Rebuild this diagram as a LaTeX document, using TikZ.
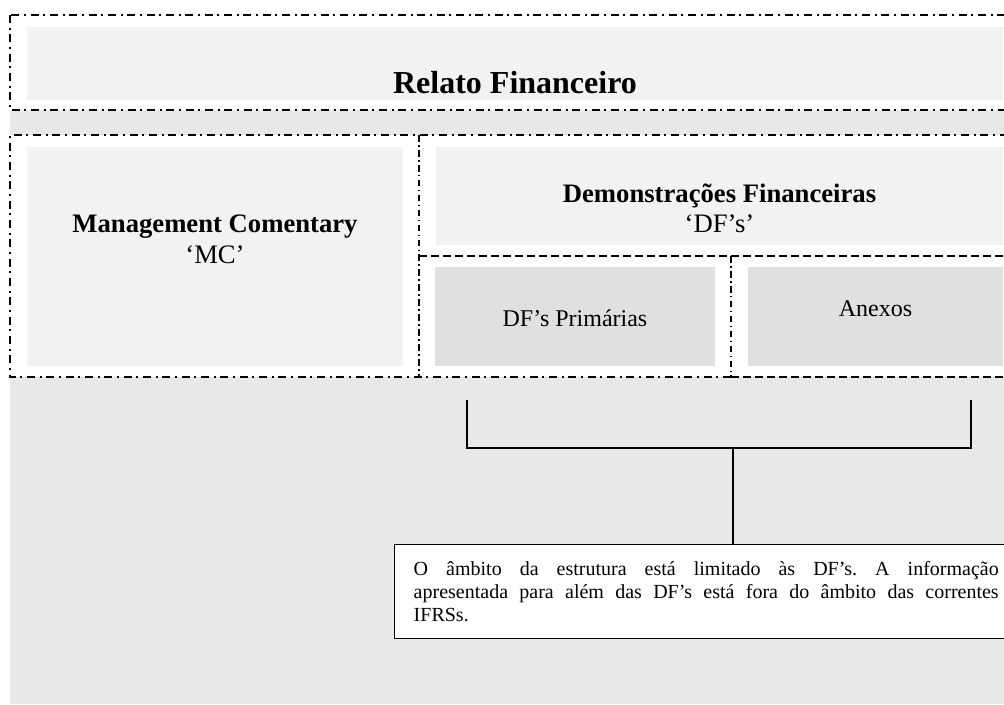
\documentclass[tikz,border=0pt]{standalone}
\usepackage{fontspec}
\setmainfont{Liberation Serif}
\usetikzlibrary{calc}
\definecolor{bgGray}{HTML}{E8E8E8}
\definecolor{boxLight}{HTML}{F2F2F2}
\definecolor{boxDark}{HTML}{E0E0E0}
\frenchspacing

\begin{document}
\begin{tikzpicture}[x=0.75pt, y=-0.75pt,
    frameline/.style={line width=1.5pt, dash pattern=on 6pt off 3.5pt on 1.5pt off 3.5pt},
    innerline/.style={line width=1.1pt, dash pattern=on 5pt off 2.5pt on 1.2pt off 2.5pt},
    dashline/.style={line width=1.1pt, dash pattern=on 6pt off 3pt},
    lightbox/.style={fill=boxLight, inner sep=0pt},
    darkbox/.style={fill=boxDark, inner sep=0pt},
    titletext/.style={anchor=base, font=\fontsize{24}{28}\selectfont\bfseries},
    headtext/.style={anchor=base, font=\fontsize{20}{24}\selectfont\bfseries},
    subtext/.style={anchor=base, font=\fontsize{20}{24}\selectfont},
    boxtext/.style={anchor=base, font=\fontsize{18}{22}\selectfont},
    notebox/.style={draw, line width=1.1pt, fill=white, anchor=north west,
        text width=438.75pt, inner xsep=14.25pt, inner ysep=0pt,
        minimum height=70.5pt, align=justify,
        font=\fontsize{15}{17.25}\selectfont},
    bracket/.style={line width=1.1pt}]

    \clip (0,0) rectangle (1004,704);

    % Grey page behind the frames
    \fill[bgGray] (10,110) rectangle (1012,704);

    % Top frame
    \filldraw[fill=white, frameline] (10,15) rectangle (1012,110);
    \node[lightbox, minimum width=732pt, minimum height=54.75pt] (relato) at (515,63.5) {};
    \node[titletext] (relatoT) at (515,93) {Relato Financeiro};

    % Second frame with the MC and DF parts
    \fill[white] (10,135) rectangle (1012,377);
    \draw[frameline] (731,377) -- (10,377) -- (10,135) -- (1012,135);
    \draw[dashline] (731,377) -- (1012,377);
    \draw[innerline] (419,135) -- (419,377);
    \draw[dashline] (419,256) -- (1012,256);
    \draw[innerline] (731,256) -- (731,377);

    \node[lightbox, minimum width=282pt, minimum height=164.25pt] (mc) at (215,256.5) {};
    \node[headtext] (mcT) at (215,232) {Management Comentary};
    \node[subtext] (mcS) at (215,263) {‘MC’};

    \node[lightbox, minimum width=425.25pt, minimum height=73.5pt] (df) at (719.5,196) {};
    \node[headtext] (dfT) at (719.5,202) {Demonstrações Financeiras};
    \node[subtext] (dfS) at (719.5,232) {‘DF’s’};

    \node[darkbox, minimum width=210pt, minimum height=74.25pt] (prim) at (575,316.5) {};
    \node[boxtext] (primT) at (575,326) {DF’s Primárias};

    \node[darkbox, minimum width=191.25pt, minimum height=74.25pt] (anexos) at (875.5,316.5) {};
    \node[boxtext] (anexosT) at (875.5,316) {Anexos};

    % Note on the scope
    \node[notebox] (nota) at (394,544) {O âmbito da estrutura está limitado às DF’s. A informação\linebreak
        apresentada para além das DF’s está fora do âmbito das correntes\linebreak IFRSs.};

    % Bracket down to the note
    \coordinate (bL) at (467,400);
    \coordinate (bR) at (971,400);
    \coordinate (bM) at (733,448);
    \draw[bracket] (bL) -- (bL |- bM) -- (bR |- bM) -- (bR);
    \draw[bracket] (bM) -- (bM |- nota.north);

\end{tikzpicture}
\end{document}
